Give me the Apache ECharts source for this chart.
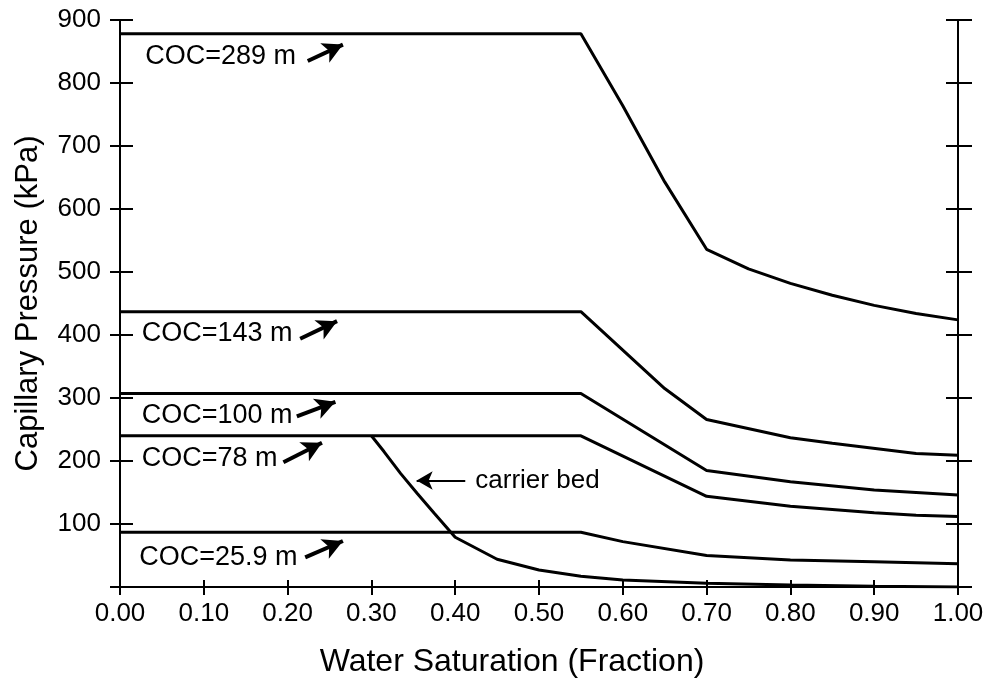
<!DOCTYPE html>
<html>
<head>
<meta charset="utf-8">
<script src="https://cdn.jsdelivr.net/npm/echarts@6/dist/echarts.min.js"></script>
<style>
html, body { margin: 0; padding: 0; background: #fff; }
#chart { width: 993px; height: 686px; }
</style>
</head>
<body>
<div id="chart"></div>
<script>
// water saturation (x) and capillary pressure in kPa (y), one pair of arrays per curve
var swCoc289 = [0.00, 0.55, 0.60, 0.65, 0.70, 0.75, 0.80, 0.85, 0.90, 0.95, 1.00];
var pcCoc289 = [878, 878, 764, 643, 536, 505, 482, 463, 447, 434, 424];
var swCoc143 = [0.00, 0.55, 0.65, 0.70, 0.80, 0.85, 0.95, 1.00];
var pcCoc143 = [437, 437, 315, 266, 237, 228, 212, 209];
var swCoc100 = [0.00, 0.55, 0.70, 0.80, 0.90, 1.00];
var pcCoc100 = [307, 307, 185, 167, 154, 146];
var swCoc78 = [0.00, 0.55, 0.70, 0.80, 0.90, 0.95, 1.00];
var pcCoc78 = [240, 240, 144, 128, 118, 114, 112];
var swCoc26 = [0.00, 0.55, 0.60, 0.70, 0.80, 0.90, 1.00];
var pcCoc26 = [87, 87, 72, 50, 43, 40, 37];
var swCarrier = [0.30, 0.315, 0.335, 0.355, 0.375, 0.40, 0.45, 0.50, 0.55, 0.60, 0.70, 0.80, 0.90, 1.00];
var pcCarrier = [240, 215, 180, 148, 117, 79, 44, 27, 17, 11, 6, 3, 1, 0];

// annotations (data coordinates)
var cocLabels = ['COC=289 m', 'COC=143 m', 'COC=100 m', 'COC=78 m', 'COC=25.9 m'];
var cocLabelAt = [[0.030, 842], [0.026, 402], [0.026, 272], [0.026, 204], [0.023, 47]];
var cocArrowFrom = [[0.224, 835], [0.215, 394], [0.211, 271], [0.195, 198], [0.221, 47]];
var cocArrowTo = [[0.266, 861], [0.259, 422], [0.257, 294], [0.241, 229], [0.266, 73]];
var carrierLabel = 'carrier bed';
var carrierLabelAt = [0.424, 169];
var carrierArrowFrom = [0.412, 169];
var carrierArrowTo = [0.354, 169];

var FONT = 'Liberation Sans, Arial, Helvetica, sans-serif';

function pairs(xs, ys) {
    var out = [];
    for (var i = 0; i < xs.length; i++) out.push([xs[i], ys[i]]);
    return out;
}

function curve(name, xs, ys, idx) {
    var s = {
        name: name,
        type: 'line',
        data: pairs(xs, ys),
        symbol: 'none',
        silent: true,
        lineStyle: { color: '#000', width: 3 },
        z: 3
    };
    if (idx !== null) {
        s.markPoint = {
            silent: true,
            symbol: 'rect',
            symbolSize: 0,
            label: {
                show: true, position: 'right', distance: 0,
                color: '#000', fontSize: 27, fontFamily: FONT,
                formatter: cocLabels[idx]
            },
            data: [{ coord: cocLabelAt[idx] }]
        };
        s.markLine = {
            silent: true,
            symbol: ['none', 'arrow'],
            symbolSize: [16, 20],
            label: { show: false },
            lineStyle: { color: '#000', width: 4, type: 'solid' },
            data: [[{ coord: cocArrowFrom[idx] }, { coord: cocArrowTo[idx] }]]
        };
    }
    return s;
}

var carrier = curve('carrier bed', swCarrier, pcCarrier, null);
carrier.markPoint = {
    silent: true,
    symbol: 'rect',
    symbolSize: 0,
    label: {
        show: true, position: 'right', distance: 0,
        color: '#000', fontSize: 26, fontFamily: FONT,
        formatter: carrierLabel
    },
    data: [{ coord: carrierLabelAt }]
};
carrier.markLine = {
    silent: true,
    symbol: ['none', 'arrow'],
    symbolSize: [14, 16],
    label: { show: false },
    lineStyle: { color: '#000', width: 2, type: 'solid' },
    data: [[{ coord: carrierArrowFrom }, { coord: carrierArrowTo }]]
};

var axisLine = { show: true, lineStyle: { color: '#000', width: 2 } };
var tickStyle = { color: '#000', width: 2 };

var chart = echarts.init(document.getElementById('chart'));
var option = {
    animation: false,
    backgroundColor: '#fff',
    textStyle: { fontFamily: FONT },
    grid: { left: 120, right: 35, top: 20, bottom: 99, containLabel: false, outerBoundsMode: 'none' },
    xAxis: [
        {
            type: 'value', position: 'bottom', min: 0, max: 1, interval: 0.1,
            name: 'Water Saturation (Fraction)', nameLocation: 'middle', nameGap: 59,
            nameTextStyle: { color: '#000', fontSize: 32, fontFamily: FONT, padding: [0, 54, 0, 0] },
            axisLine: axisLine,
            axisTick: { show: true, inside: false, length: 8, lineStyle: tickStyle },
            axisLabel: { color: '#000', fontSize: 26, fontFamily: FONT, margin: 14,
                formatter: function (v) { return v.toFixed(2); } },
            splitLine: { show: false }
        },
        {
            type: 'value', position: 'bottom', min: 0, max: 1, interval: 0.1,
            axisLine: { show: false },
            axisTick: { show: true, inside: true, length: 7, lineStyle: tickStyle },
            axisLabel: { show: false },
            splitLine: { show: false }
        }
    ],
    yAxis: [
        {
            type: 'value', position: 'left', min: 0, max: 900, interval: 100,
            name: 'Capillary Pressure (kPa)', nameLocation: 'middle', nameGap: 76,
            nameTextStyle: { color: '#000', fontSize: 31, fontFamily: FONT },
            axisLine: axisLine,
            axisTick: { show: true, inside: false, length: 10, lineStyle: tickStyle },
            axisLabel: { color: '#000', fontSize: 26, fontFamily: FONT, margin: 19,
                formatter: function (v) { return v === 0 ? '' : String(v); } },
            splitLine: { show: false }
        },
        {
            type: 'value', position: 'left', min: 0, max: 900, interval: 100,
            axisLine: { show: false },
            axisTick: { show: true, inside: true, length: 13, lineStyle: tickStyle },
            axisLabel: { show: false },
            splitLine: { show: false }
        },
        {
            type: 'value', position: 'right', min: 0, max: 900, interval: 100,
            axisLine: axisLine,
            axisTick: { show: true, inside: false, length: 14, lineStyle: tickStyle },
            axisLabel: { show: false },
            splitLine: { show: false }
        },
        {
            type: 'value', position: 'right', min: 0, max: 900, interval: 100,
            axisLine: { show: false },
            axisTick: { show: true, inside: true, length: 12, lineStyle: tickStyle },
            axisLabel: { show: false },
            splitLine: { show: false }
        }
    ],
    series: [
        curve('COC=289 m', swCoc289, pcCoc289, 0),
        curve('COC=143 m', swCoc143, pcCoc143, 1),
        curve('COC=100 m', swCoc100, pcCoc100, 2),
        curve('COC=78 m', swCoc78, pcCoc78, 3),
        curve('COC=25.9 m', swCoc26, pcCoc26, 4),
        carrier
    ]
};
chart.setOption(option);
</script>
</body>
</html>
